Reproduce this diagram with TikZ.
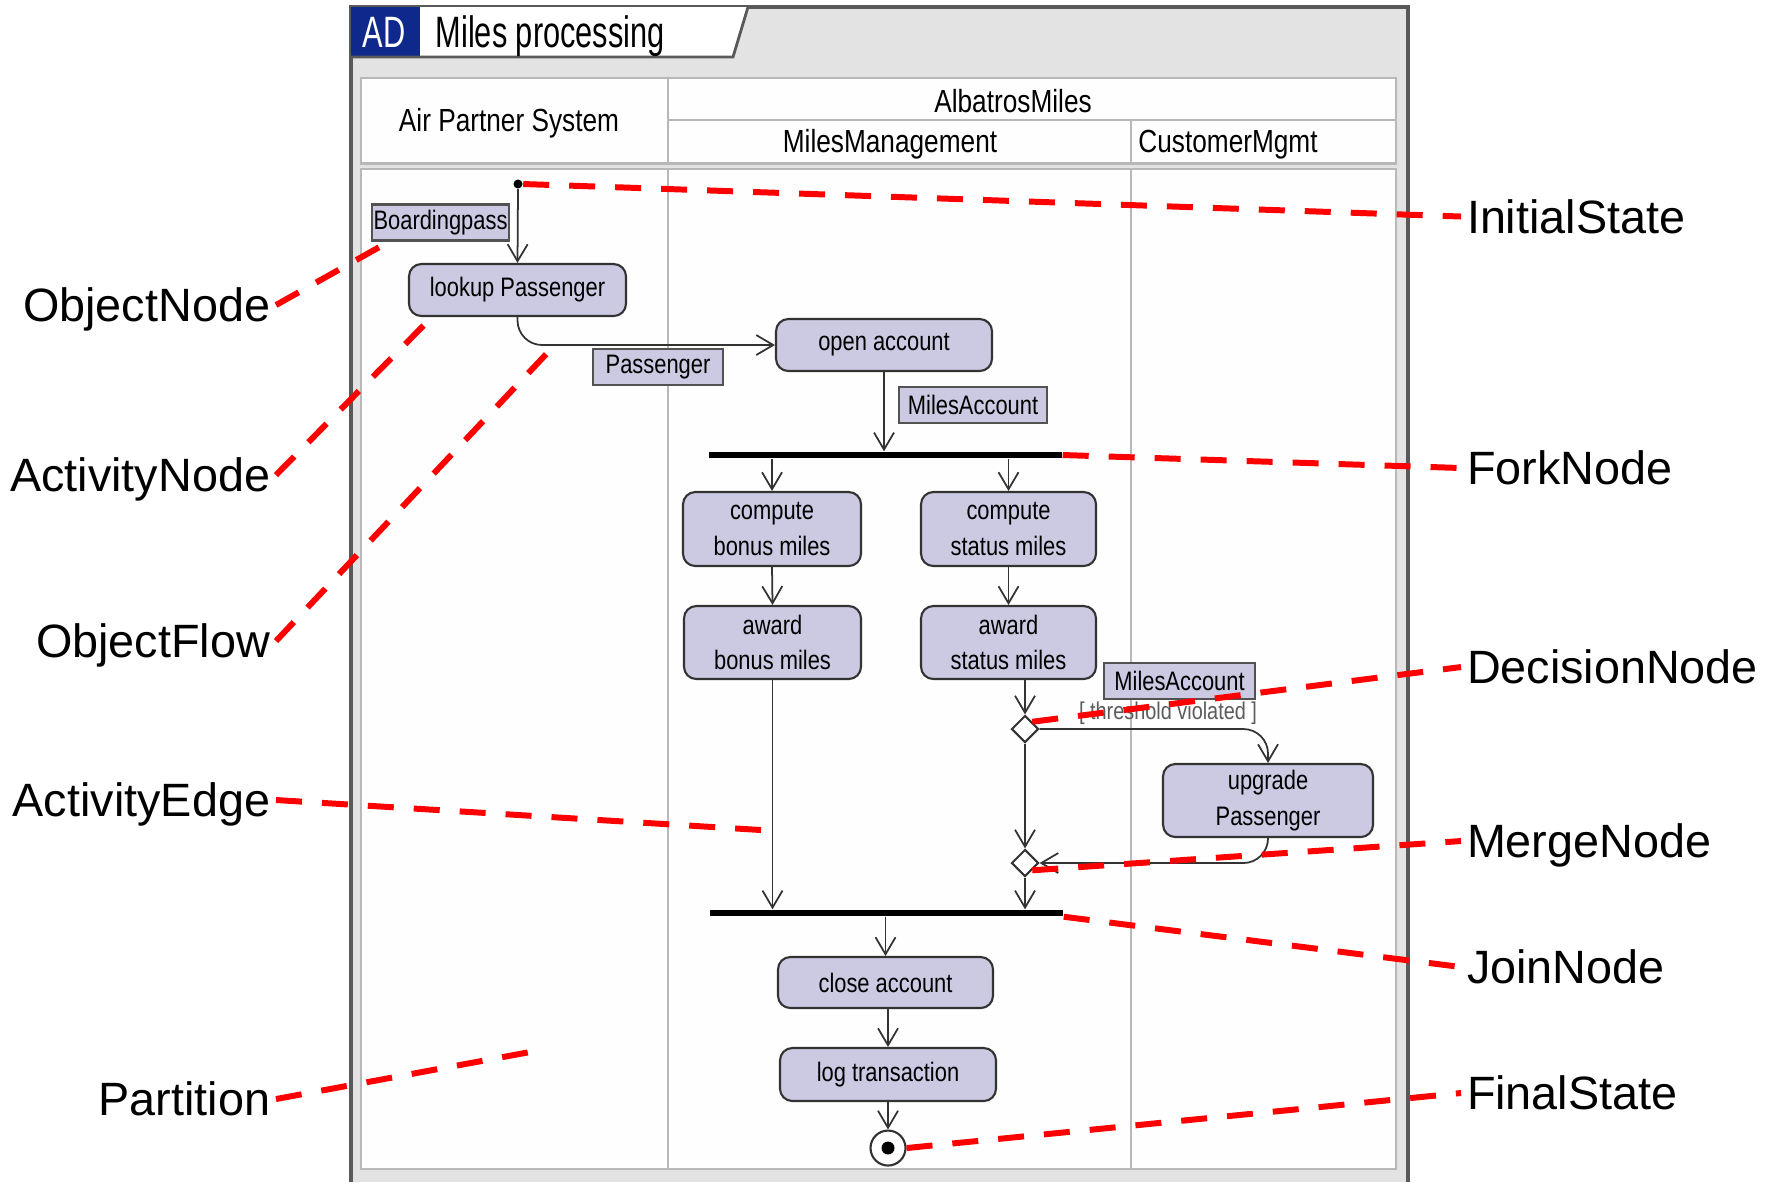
\documentclass[tikz,border=0pt]{standalone}
\usepackage{fontspec}
\setmainfont{Liberation Sans}
\newfontfamily\umlfont[FakeStretch=0.82]{Liberation Sans}
\newfontfamily\titlefont[FakeStretch=0.7]{Liberation Sans}
\usepackage{tikz}
\usetikzlibrary{arrows.meta,shapes.geometric}
\definecolor{umlink}{gray}{0.2}
\definecolor{umlfill}{RGB}{203,202,226}
\definecolor{framegray}{gray}{0.89}
\definecolor{framedark}{gray}{0.35}
\definecolor{lanegray}{gray}{0.72}
\definecolor{lanewhite}{gray}{0.995}
\definecolor{adblue}{RGB}{14,40,140}
\definecolor{markred}{RGB}{255,0,0}

\begin{document}
\begin{tikzpicture}[
  x=1cm,y=1cm,
  lanerule/.style={draw=lanegray,line width=0.8pt},
  lane/.style={lanerule,fill=lanewhite},
  lanehead/.style={anchor=base,inner sep=0pt,font=\umlfont\fontsize{9.1}{11}\selectfont},
  action/.style={draw=umlink,line width=0.6pt,fill=umlfill,rounded corners=3.5pt,
    align=center,inner sep=0pt,font=\umlfont\fontsize{7.6}{10}\selectfont},
  object/.style={draw=umlink!85,line width=0.6pt,fill=umlfill,inner xsep=0.5pt,
    inner ysep=0pt,minimum height=0.36cm,font=\umlfont\fontsize{7.6}{9}\selectfont},
  bar/.style={fill=black,inner sep=0pt,minimum height=0.06cm},
  choice/.style={diamond,draw=umlink,fill=white,line width=0.6pt,inner sep=0pt,
    minimum size=0.27cm},
  guard/.style={inner sep=0pt,text=umlink!80,font=\umlfont\fontsize{6.9}{8}\selectfont},
  flow/.style={-{Straight Barb[length=1.7mm,width=2mm]},draw=umlink,line width=0.5pt},
  leader/.style={draw=markred,line width=1.7pt,dash pattern=on 2.6mm off 2mm},
  tag/.style={font=\fontsize{13.3}{16}\selectfont,inner sep=1.5pt,
    text height=0.335cm,text depth=0pt},
]
  \useasboundingbox (0,0) rectangle (17.68,-11.82);

  % diagram frame with its name tab
  \fill[framegray] (3.51,-0.07) rectangle (14.08,-11.82);
  \draw[framedark,line width=1pt] (3.51,-11.82) |- (14.08,-0.07) -- (14.08,-11.82);
  \fill[adblue] (3.51,-0.07) rectangle (4.20,-0.57);
  \fill[white] (4.20,-0.07) -- (7.48,-0.07) -- (7.33,-0.57) -- (4.20,-0.57) -- cycle;
  \draw[framedark,line width=0.8pt] (7.48,-0.07) -- (7.33,-0.57) -- (3.51,-0.57);
  \node[anchor=base west,inner sep=0pt,text=white,
    font=\titlefont\fontsize{12.5}{14}\selectfont] (adtag) at (3.62,-0.47) {AD};
  \node[anchor=base west,inner sep=0pt,
    font=\titlefont\fontsize{12.5}{14}\selectfont] (title) at (4.35,-0.47) {Miles processing};

  % partitions
  \draw[lane] (3.61,-0.78) rectangle (13.96,-1.635);
  \draw[lane] (3.61,-1.69) rectangle (13.96,-11.69);
  \draw[lanerule] (6.68,-0.78) -- (6.68,-1.635) (6.68,-1.20) -- (13.96,-1.20)
    (11.31,-1.20) -- (11.31,-1.635);
  \draw[lanerule] (6.68,-1.69) -- (6.68,-11.69) (11.31,-1.69) -- (11.31,-11.69);
  \node[lanehead] (hAir) at (5.09,-1.31) {Air Partner System};
  \node[lanehead] (hAlb) at (10.13,-1.12) {AlbatrosMiles};
  \node[lanehead] (hMiles) at (8.90,-1.52) {MilesManagement};
  \node[lanehead] (hCust) at (12.28,-1.52) {CustomerMgmt};

  % activity nodes
  \node[circle,fill=black,inner sep=0pt,minimum size=0.09cm] (init) at (5.18,-1.84) {};
  \node[action,minimum width=2.17cm,minimum height=0.52cm] (lookup) at (5.175,-2.90) {lookup Passenger};
  \node[action,minimum width=2.16cm,minimum height=0.52cm] (open) at (8.84,-3.45) {open account};
  \node[bar,minimum width=3.53cm] (fork) at (8.855,-4.55) {};
  \node[action,minimum width=1.78cm,minimum height=0.74cm] (cbonus) at (7.72,-5.29) {compute\\bonus miles};
  \node[action,minimum width=1.75cm,minimum height=0.74cm] (cstatus) at (10.085,-5.29) {compute\\status miles};
  \node[action,minimum width=1.77cm,minimum height=0.73cm] (abonus) at (7.725,-6.425) {award\\bonus miles};
  \node[action,minimum width=1.75cm,minimum height=0.73cm] (astatus) at (10.085,-6.425) {award\\status miles};
  \node[choice] (dec) at (10.25,-7.29) {};
  \node[choice] (merge) at (10.25,-8.63) {};
  \node[action,minimum width=2.10cm,minimum height=0.73cm] (upgrade) at (12.68,-8.005) {upgrade\\Passenger};
  \node[bar,minimum width=3.53cm] (join) at (8.865,-9.13) {};
  \node[action,minimum width=2.15cm,minimum height=0.51cm] (close) at (8.855,-9.825) {close account};
  \node[action,minimum width=2.16cm,minimum height=0.53cm] (logtx) at (8.88,-10.745) {log transaction};
  \node[circle,draw=umlink,fill=white,line width=0.6pt,inner sep=0pt,minimum size=0.35cm] (final) at (8.88,-11.48) {};
  \fill[black] (final) circle (0.065);

  % object nodes
  \node[object,minimum width=1.31cm] (bpass) at (4.405,-2.225) {Boardingpass};
  \node[object,minimum width=1.30cm] (pobj) at (6.58,-3.67) {Passenger};
  \node[object,minimum width=1.48cm] (macct) at (9.73,-4.05) {MilesAccount};
  \node[object,minimum width=1.51cm] (macct2) at (11.795,-6.81) {MilesAccount};
  \node[guard] (thresh) at (11.68,-7.13) {[ threshold violated ]};

  % control and object flows
  \draw[flow] (init.south) -- (lookup.north);
  \draw[flow,rounded corners=7pt] (lookup.south) |- (open.west);
  \draw[flow] (open.south) -- (open.south |- fork.north);
  \draw[flow] (fork.south -| cbonus) -- (cbonus.north);
  \draw[flow] (fork.south -| cstatus) -- (cstatus.north);
  \draw[flow] (cbonus.south) -- (abonus.north);
  \draw[flow] (cstatus.south) -- (astatus.north);
  \draw[flow] (abonus.south) -- (abonus.south |- join.north);
  \draw[flow] (astatus.south -| dec) -- (dec.north);
  \draw[flow,rounded corners=7pt] (dec.east) -| (upgrade.north);
  \draw[flow] (dec.south) -- (merge.north);
  \draw[flow,rounded corners=7pt] (upgrade.south) |- (merge.east);
  \draw[flow] (merge.south) -- (merge.south |- join.north);
  \draw[flow] (join.south -| close) -- (close.north);
  \draw[flow] (close.south -| logtx) -- (logtx.north);
  \draw[flow] (logtx.south) -- (final.north);

  % metamodel names
  \node[tag,anchor=west] (lInitial) at (14.61,-2.165) {InitialState};
  \node[tag,anchor=east] (lObjNode) at (2.76,-3.05) {ObjectNode};
  \node[tag,anchor=east] (lActNode) at (2.76,-4.75) {ActivityNode};
  \node[tag,anchor=east] (lObjFlow) at (2.76,-6.41) {ObjectFlow};
  \node[tag,anchor=east] (lActEdge) at (2.76,-8.00) {ActivityEdge};
  \node[tag,anchor=east] (lPartition) at (2.76,-10.99) {Partition};
  \node[tag,anchor=west] (lFork) at (14.61,-4.68) {ForkNode};
  \node[tag,anchor=west] (lDecision) at (14.61,-6.67) {DecisionNode};
  \node[tag,anchor=west] (lMerge) at (14.61,-8.41) {MergeNode};
  \node[tag,anchor=west] (lJoin) at (14.61,-9.67) {JoinNode};
  \node[tag,anchor=west] (lFinal) at (14.61,-10.93) {FinalState};

  \coordinate (objTip) at (3.83,-2.45);
  \coordinate (actTip) at (4.28,-3.21);
  \coordinate (flowTip) at (5.51,-3.49);
  \coordinate (edgeTip) at (7.61,-8.30);
  \coordinate (laneTip) at (5.30,-10.52);

  \draw[leader] (init.east) -- (lInitial.west);
  \draw[leader] (lObjNode.east) -- (objTip);
  \draw[leader] (lActNode.east) -- (actTip);
  \draw[leader] (lObjFlow.east) -- (flowTip);
  \draw[leader] (lActEdge.east) -- (edgeTip);
  \draw[leader] (lPartition.east) -- (laneTip);
  \draw[leader] (fork.east) -- (lFork.west);
  \draw[leader] (dec.north east) -- (lDecision.west);
  \draw[leader] (merge.south east) -- (lMerge.west);
  \draw[leader] (join.south east) -- (lJoin.west);
  \draw[leader] (final.east) -- (lFinal.west);
\end{tikzpicture}
\end{document}
